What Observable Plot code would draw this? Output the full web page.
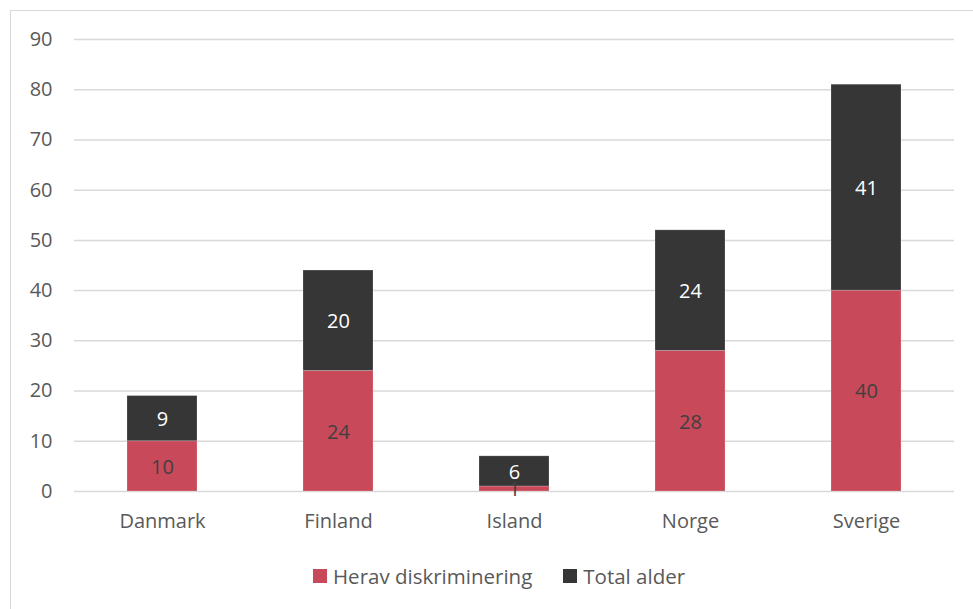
<!DOCTYPE html>
<html>
<head>
<meta charset="utf-8">
<script src="https://cdn.jsdelivr.net/npm/d3@7"></script>
<script src="https://cdn.jsdelivr.net/npm/@observablehq/plot@0.6"></script>
<style>
  html, body { margin: 0; padding: 0; background: #fff; overflow: hidden; }
  body { width: 973px; height: 609px; position: relative; font-family: "Open Sans", sans-serif; }
  #frame { position: absolute; left: 10px; top: 10px; width: 1000px; height: 700px; border: 1.5px solid #d9d9d9; box-sizing: border-box; }
  #chart { position: absolute; left: 0; top: 0; }
  #legend { position: absolute; left: 313px; top: 561px; display: flex; gap: 31px; font-size: 20.5px; line-height: 30px; color: #595959; white-space: nowrap; }
  .item { display: flex; align-items: center; gap: 6px; }
  .sw { width: 14px; height: 14px; display: inline-block; }
</style>
</head>
<body>
<div id="frame"></div>
<div id="chart"></div>
<div id="legend"></div>
<script>
const countries = ["Danmark", "Finland", "Island", "Norge", "Sverige"];
const diskriminering = [10, 24, 1, 28, 40];
const totalAlder = [9, 20, 6, 24, 41];
const seriesNames = ["Herav diskriminering", "Total alder"];
const seriesColors = ["#c84a5a", "#363636"];
const labelColors = ["#404040", "#ffffff"];
const yTicks = [0, 10, 20, 30, 40, 50, 60, 70, 80, 90];

const data = [];
countries.forEach((c, i) => {
  data.push({country: c, series: seriesNames[0], value: diskriminering[i]});
  data.push({country: c, series: seriesNames[1], value: totalAlder[i]});
});

const plot = Plot.plot({
  width: 973,
  height: 545,
  marginLeft: 74,
  marginRight: 19,
  marginTop: 39,
  marginBottom: 54,
  style: {fontFamily: "'Open Sans', sans-serif", fontSize: "20px", color: "#595959", background: "transparent"},
  x: {domain: countries, paddingInner: 0.6, paddingOuter: 0.3, label: null},
  y: {domain: [0, 90], ticks: yTicks, label: null},
  color: {domain: seriesNames, range: seriesColors},
  marks: [
    Plot.gridY(yTicks, {stroke: "#d9d9d9", strokeOpacity: 1, strokeWidth: 1.5}),
    Plot.barY(data, Plot.stackY({x: "country", y: "value", fill: "series", order: seriesNames, stroke: "#ffffff", strokeOpacity: 0.25, strokeWidth: 0.8})),
    Plot.text(data, Plot.stackY({
      x: "country", y: "value", order: seriesNames, text: d => String(d.value),
      fill: d => labelColors[seriesNames.indexOf(d.series)],
      fontSize: 20, dy: 1
    })),
    Plot.axisX({tickSize: 0, tickPadding: 22, fontSize: 20, fill: "#595959"}),
    Plot.axisY(yTicks, {tickSize: 0, tickPadding: 22, fontSize: 20, fill: "#595959"})
  ]
});
document.getElementById("chart").appendChild(plot);

const legend = document.getElementById("legend");
seriesNames.forEach((s, i) => {
  const it = document.createElement("div");
  it.className = "item";
  const sw = document.createElement("span");
  sw.className = "sw";
  sw.style.background = seriesColors[i];
  const t = document.createElement("span");
  t.textContent = s;
  it.appendChild(sw);
  it.appendChild(t);
  legend.appendChild(it);
});
</script>
</body>
</html>
